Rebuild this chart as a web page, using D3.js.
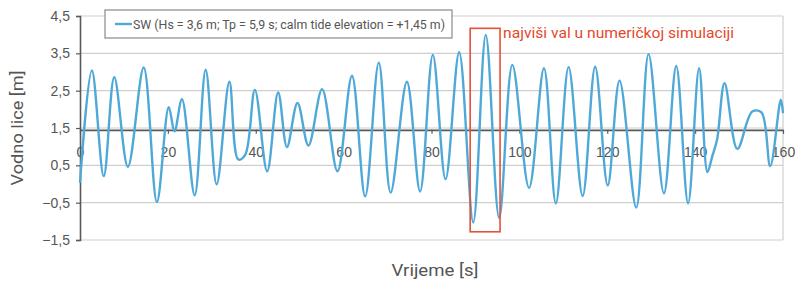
<!DOCTYPE html>
<html>
<head>
<meta charset="utf-8">
<script src="https://cdn.jsdelivr.net/npm/d3@7"></script>
<style>
  body { margin: 0; background: #fff; }
  svg { font-family: Roboto, "Noto Sans", sans-serif; }
  .grid line { stroke: #cfcfcf; stroke-width: 1.2; }
  .axis-label { fill: #555; font-size: 16.5px; }
  .tick-label { fill: #555; font-size: 14px; }
</style>
</head>
<body>
<svg class="wave-chart"></svg>
<script>
// time [s] and water level [m] at peaks / troughs read from the record
var times = [0, 2.7, 5.4, 7.8, 10.9, 14.5, 17.5, 20.2, 21.5, 23.2, 26.1, 28.6, 31.1, 34.0, 36.0, 37.6,
  39.8, 42.6, 45.1, 47.1, 49.5, 52.0, 55.1, 58.6, 61.9, 64.9, 68.0, 70.7, 74.4, 77.4, 80.3, 83.2,
  86.3, 89.5, 92.35, 95.4, 98.4, 102.2, 105.6, 108.3, 111.2, 114.4, 117.25, 120.1, 122.8, 126.6,
  129.4, 132.9, 135.7, 138.4, 140.9, 142.8, 143.9, 145.0, 146.7, 149.6, 153.0, 155.1, 157.1, 159.5, 160];
var levels = [0.03, 3.04, 0.21, 2.86, 0.46, 3.12, -0.48, 2.06, 1.41, 2.27, -0.30, 3.06, -0.01, 2.74, 0.66, 0.78,
  2.52, 0.34, 2.45, 0.99, 2.17, 1.03, 2.54, 0.34, 2.90, -0.33, 3.25, -0.23, 2.74, -0.20, 3.46, 0.13,
  3.53, -1.03, 3.99, -0.91, 3.19, -0.10, 3.10, -0.52, 3.13, -0.32, 3.14, -0.04, 2.77, -0.63,
  3.48, -0.25, 3.16, -0.52, 3.10, 0.32, 0.74, 1.19, 2.70, 0.94, 1.94, 1.92, 0.48, 2.26, 1.90];

var xTicks = [0, 20, 40, 60, 80, 100, 120, 140, 160];
var yTicks = [4.5, 3.5, 2.5, 1.5, 0.5, -0.5, -1.5];
var calmTide = 1.45;
var highlightTimes = [88.8, 95.6];
var highlightLevels = [4.17, -1.28];

var seriesName = "SW (Hs = 3,6 m; Tp = 5,9 s; calm tide elevation = +1,45 m)";
var noteText = "najviši val u numeričkoj simulaciji";

var margin = {top: 16, right: 14, bottom: 41, left: 80};
var width = 797 - margin.left - margin.right;
var height = 281 - margin.top - margin.bottom;

var comma = function(v) { return d3.format(".1f")(v).replace(".", ","); };

var x = d3.scaleLinear().domain([0, 160]).range([0, width]);
var y = d3.scaleLinear().domain([-1.5, 4.5]).range([height, 0]);

var data = times.map(function(t, i) { return {t: t, v: levels[i]}; });

var svg = d3.select(".wave-chart")
  .attr("width", 797)
  .attr("height", 281);

var chart = svg.append("g")
  .attr("transform", "translate(" + margin.left + "," + margin.top + ")");

// horizontal gridlines
chart.append("g")
  .attr("class", "grid")
  .selectAll("line")
  .data(yTicks)
  .enter().append("line")
  .attr("x1", 0)
  .attr("x2", width)
  .attr("y1", function(d) { return y(d); })
  .attr("y2", function(d) { return y(d); });

// right border of plot area
chart.append("line")
  .attr("x1", width).attr("x2", width)
  .attr("y1", 0).attr("y2", height)
  .attr("stroke", "#cfcfcf")
  .attr("stroke-width", 1.2);

// y axis
var yAxis = chart.append("g")
  .call(d3.axisLeft(y).tickValues(yTicks).tickSize(4).tickPadding(6).tickFormat(comma));
yAxis.select(".domain").attr("stroke", "#595959").attr("stroke-width", 1.6);
yAxis.selectAll(".tick line").attr("stroke", "#595959").attr("stroke-width", 1.2);
yAxis.selectAll(".tick text")
  .attr("class", "tick-label")
  .attr("font-size", null)
  .attr("font-family", null)
  .attr("fill", null);

// x axis through calm tide level
var xAxis = chart.append("g")
  .attr("transform", "translate(0," + y(calmTide) + ")")
  .call(d3.axisBottom(x).tickValues(xTicks).tickSize(4).tickPadding(13).tickSizeOuter(0));
xAxis.select(".domain").attr("stroke", "#595959").attr("stroke-width", 1.8);
xAxis.selectAll(".tick line").attr("stroke", "#595959").attr("stroke-width", 1.2);
xAxis.selectAll(".tick text")
  .attr("class", "tick-label")
  .attr("font-size", null)
  .attr("font-family", null)
  .attr("fill", null);

// wave record
var valueline = d3.line()
  .x(function(d) { return x(d.t); })
  .y(function(d) { return y(d.v); })
  .curve(d3.curveCatmullRom.alpha(0.5));

chart.append("path")
  .datum(data)
  .attr("fill", "none")
  .attr("stroke", "#4fa9d8")
  .attr("stroke-width", 2.4)
  .attr("stroke-linejoin", "round")
  .attr("d", valueline);

// highlighted highest wave
chart.append("rect")
  .attr("x", x(highlightTimes[0]))
  .attr("y", y(highlightLevels[0]))
  .attr("width", x(highlightTimes[1]) - x(highlightTimes[0]))
  .attr("height", y(highlightLevels[1]) - y(highlightLevels[0]))
  .attr("fill", "none")
  .attr("stroke", "#e2513a")
  .attr("stroke-width", 1.6);

chart.append("text")
  .attr("x", x(highlightTimes[1]) + 3)
  .attr("y", y(highlightLevels[0]) + 10)
  .attr("fill", "#e5472a")
  .attr("font-size", "14.5px")
  .attr("textLength", 231)
  .attr("lengthAdjust", "spacingAndGlyphs")
  .text(noteText);

// legend
var legend = chart.append("g")
  .attr("transform", "translate(25,-6)");

legend.append("rect")
  .attr("width", 347)
  .attr("height", 28)
  .attr("fill", "#fff")
  .attr("stroke", "#8a8a8a")
  .attr("stroke-width", 1.2);

legend.append("line")
  .attr("x1", 10).attr("x2", 27)
  .attr("y1", 14).attr("y2", 14)
  .attr("stroke", "#4fa9d8")
  .attr("stroke-width", 2.4);

legend.append("text")
  .attr("x", 28)
  .attr("y", 18.5)
  .attr("fill", "#555")
  .attr("font-size", "12.5px")
  .attr("textLength", 312)
  .attr("lengthAdjust", "spacingAndGlyphs")
  .text(seriesName);

// axis titles
chart.append("text")
  .attr("class", "axis-label")
  .attr("transform", "rotate(-90)")
  .attr("x", 0 - y(1.5))
  .attr("y", 0 - margin.left + 23)
  .attr("text-anchor", "middle")
  .attr("textLength", 115)
  .attr("lengthAdjust", "spacingAndGlyphs")
  .text("Vodno lice [m]");

chart.append("text")
  .attr("class", "axis-label")
  .attr("x", 435 - margin.left)
  .attr("y", height + 36)
  .attr("text-anchor", "middle")
  .attr("textLength", 87)
  .attr("lengthAdjust", "spacingAndGlyphs")
  .text("Vrijeme [s]");
</script>
</body>
</html>
